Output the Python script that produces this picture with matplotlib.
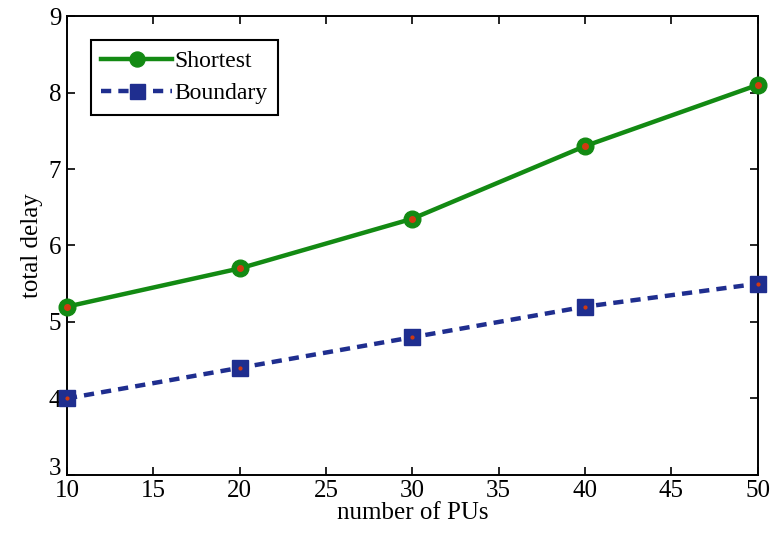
import numpy as np
import matplotlib
matplotlib.use('Agg')
import matplotlib.pyplot as plt

plt.rcParams['font.family'] = ['Liberation Serif', 'DejaVu Serif']

# data
num_pus = [10, 20, 30, 40, 50]
shortest = [5.2, 5.7, 6.35, 7.3, 8.1]
boundary = [4.0, 4.4, 4.8, 5.2, 5.5]

green = '#138a13'
blue = '#1f2e8f'
red = '#d23a10'

fig, ax = plt.subplots(figsize=(7.78, 5.36), dpi=100)
fig.subplots_adjust(left=0.086, right=0.974, top=0.970, bottom=0.114)

ax.plot(num_pus, shortest, linestyle='-', color=green, linewidth=3.2,
        marker='o', markersize=12, markerfacecolor=green,
        markeredgecolor=green, label='Shortest', clip_on=False, zorder=3)
ax.plot(num_pus, boundary, linestyle='--', color=blue, linewidth=3.2,
        dashes=(2.3, 1.6),
        marker='s', markersize=12, markerfacecolor=blue,
        markeredgecolor=blue, label='Boundary', clip_on=False, zorder=3)
# small red dots in the middle of the markers
ax.plot(num_pus, shortest, linestyle='none', marker='o', markersize=4,
        color=red, clip_on=False, zorder=4)
ax.plot(num_pus, boundary, linestyle='none', marker='o', markersize=2,
        color=red, clip_on=False, zorder=4)

ax.set_xlim(10, 50)
ax.set_ylim(3, 9)
ax.set_xticks(np.arange(10, 51, 5))
ax.set_yticks(np.arange(3, 10, 1))
ax.tick_params(direction='in', length=6, width=1.2, labelsize=18,
               top=True, right=True, pad=4)
ax.tick_params(axis='y', pad=4)
for s in ax.spines.values():
    s.set_linewidth(1.4)
ax.set_xlabel('number of PUs', fontsize=18, labelpad=0)
ax.set_ylabel('total delay', fontsize=18, labelpad=4)

# lowest y label sits a little above the corner, clear of the "10"
fig.canvas.draw()
ax.get_yticklabels()[0].set_verticalalignment('baseline')

leg = ax.legend(loc='upper left', fontsize=17, fancybox=False,
                edgecolor='black', framealpha=1, handlelength=3.0,
                borderaxespad=1.0, handletextpad=0.1, labelspacing=0.45,
                borderpad=0.45, markerscale=0.9)
leg.get_frame().set_linewidth(1.5)

fig.savefig('out.png', dpi=100)
